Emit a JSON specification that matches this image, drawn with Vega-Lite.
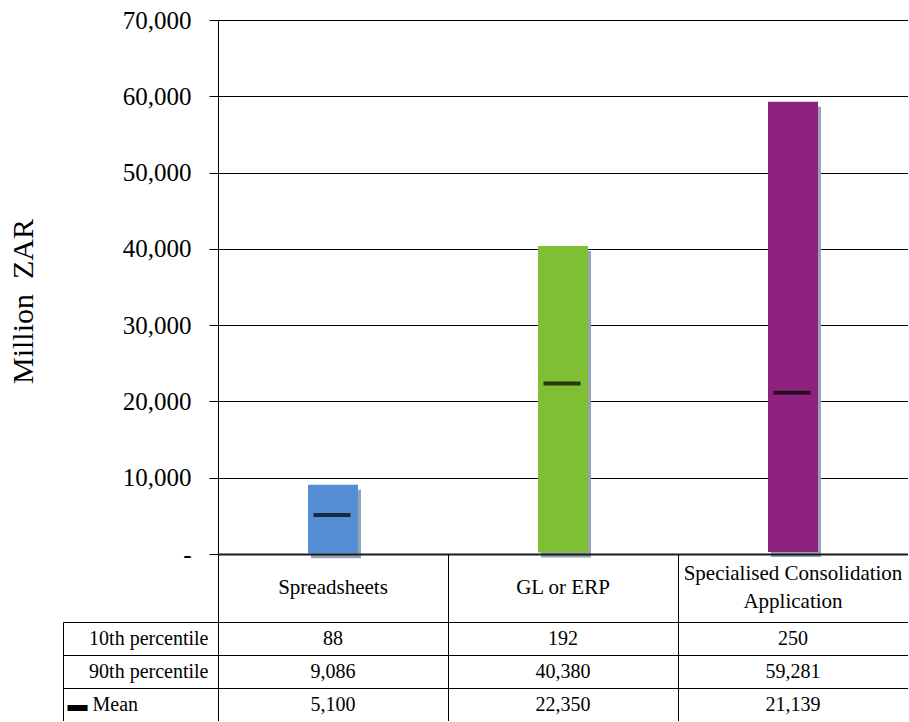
{
  "$schema": "https://vega.github.io/schema/vega-lite/v6.json",
  "background": "white",
  "padding": {"left": 8, "top": 8, "right": 0, "bottom": 0},
  "datasets": {
    "tools": [
      {"tool": "Spreadsheets", "p10": 88, "p90": 9086, "mean": 5100},
      {"tool": "GL or ERP", "p10": 192, "p90": 40380, "mean": 22350},
      {"tool": "Specialised Consolidation\nApplication", "p10": 250, "p90": 59281, "mean": 21139}
    ]
  },
  "spacing": 0,
  "bounds": "flush",
  "vconcat": [
    {
      "width": 690,
      "height": 534,
      "data": {"name": "tools"},
      "encoding": {
        "x": {
          "field": "tool",
          "type": "nominal",
          "sort": null,
          "scale": {"domain": ["Spreadsheets", "GL or ERP", "Specialised Consolidation\nApplication"], "paddingInner": 0, "paddingOuter": 0},
          "axis": {"title": null, "labels": false, "ticks": false, "domainColor": "#1a1a1a", "domainWidth": 2, "zindex": 1}
        }
      },
      "layer": [
        {
          "mark": {"type": "bar", "size": 50, "color": "#95A3B6", "xOffset": 3, "yOffset": 5, "y2Offset": 5},
          "encoding": {
            "y": {
              "field": "p10",
              "type": "quantitative",
              "scale": {"domain": [0, 70000], "nice": false},
              "axis": {
                "title": "Million\u00a0\u00a0ZAR",
                "titleFont": "Liberation Serif",
                "titleFontSize": 30,
                "titleFontWeight": "normal",
                "titleColor": "black",
                "titlePadding": 84,
                "titleY": 281,
                "values": [0, 10000, 20000, 30000, 40000, 50000, 60000, 70000],
                "labelExpr": "datum.value == 0 ? '-\u2007\u2007' : format(datum.value, ',')",
                "labelFont": "Liberation Serif",
                "labelFontSize": 25,
                "labelColor": "black",
                "labelPadding": 18,
                "tickSize": 9,
                "tickColor": "black",
                "domainColor": "black",
                "grid": true,
                "gridColor": "black",
                "gridOpacity": 1
              }
            },
            "y2": {"field": "p90"}
          }
        },
        {
          "mark": {"type": "bar", "size": 50},
          "encoding": {
            "y": {"field": "p10", "type": "quantitative"},
            "y2": {"field": "p90"},
            "color": {
              "field": "tool",
              "type": "nominal",
              "scale": {
                "domain": ["Spreadsheets", "GL or ERP", "Specialised Consolidation\nApplication"],
                "range": ["#558ED5", "#7FBF34", "#8E227F"]
              },
              "legend": null
            }
          }
        },
        {
          "mark": {"type": "tick", "color": "black", "size": 37, "thickness": 4, "xOffset": -1},
          "encoding": {"y": {"field": "mean", "type": "quantitative"}}
        }
      ]
    },
    {
      "width": 690,
      "height": 68,
      "data": {"name": "tools"},
      "mark": {
        "type": "text",
        "font": "Liberation Serif",
        "fontSize": 21,
        "lineBreak": "\n",
        "lineHeight": 28,
        "color": "black",
        "dy": {"expr": "indexof(datum.tool, 'Application') >= 0 ? -14 : 0"}
      },
      "encoding": {
        "x": {
          "field": "tool",
          "type": "nominal",
          "sort": null,
          "scale": {"domain": ["Spreadsheets", "GL or ERP", "Specialised Consolidation\nApplication"], "paddingInner": 0, "paddingOuter": 0},
          "axis": {"title": null, "labels": false, "ticks": false, "domain": false, "grid": true, "gridColor": "black", "gridOpacity": 1, "tickOffset": -115}
        },
        "text": {"field": "tool"}
      }
    },
    {
      "width": 690,
      "height": 99,
      "data": {"name": "tools"},
      "transform": [{"fold": ["p10", "p90", "mean"], "as": ["stat", "value"]}],
      "layer": [
        {
          "mark": {"type": "text", "font": "Liberation Serif", "fontSize": 20, "color": "black"},
          "encoding": {
            "x": {
              "field": "tool",
              "type": "nominal",
              "sort": null,
              "scale": {"domain": ["Spreadsheets", "GL or ERP", "Specialised Consolidation\nApplication"], "paddingInner": 0, "paddingOuter": 0},
              "axis": {"title": null, "labels": false, "ticks": false, "domain": false, "grid": true, "gridColor": "black", "gridOpacity": 1, "tickOffset": -115}
            },
            "y": {
              "field": "stat",
              "type": "nominal",
              "sort": null,
              "scale": {"domain": ["p10", "p90", "mean"], "paddingInner": 0, "paddingOuter": 0},
              "axis": {
                "title": null,
                "tickOffset": -16.5,
                "labelOffset": 16.5,
                "grid": true,
                "gridColor": "black",
                "gridOpacity": 1,
                "tickSize": 155,
                "tickColor": "black",
                "domainColor": "black",
                "labelPadding": -145,
                "labelFont": "Liberation Serif",
                "labelFontSize": 20,
                "labelColor": "black",
                "labelExpr": "datum.value === 'p10' ? '10th percentile' : datum.value === 'p90' ? '90th percentile' : ''"
              }
            },
            "text": {"field": "value", "type": "quantitative", "format": ","}
          }
        },
        {
          "mark": {"type": "text", "text": ""},
          "encoding": {
            "y": {
              "field": "stat",
              "type": "nominal",
              "sort": null,
              "scale": {"domain": ["p10", "p90", "mean"], "paddingInner": 0, "paddingOuter": 0},
              "axis": {
                "orient": "left",
                "offset": 155,
                "title": null,
                "ticks": false,
                "grid": false,
                "domainColor": "black",
                "labelExpr": "datum.value === 'mean' ? '\u25ac Mean' : ''",
                "labelAlign": "left",
                "labelPadding": -4,
                "labelFont": "Liberation Serif",
                "labelFontSize": 20,
                "labelColor": "black"
              }
            }
          }
        }
      ],
      "resolve": {"scale": {"y": "independent"}, "axis": {"y": "independent"}}
    }
  ],
  "config": {
    "view": {"stroke": null},
    "font": "Liberation Serif"
  }
}
